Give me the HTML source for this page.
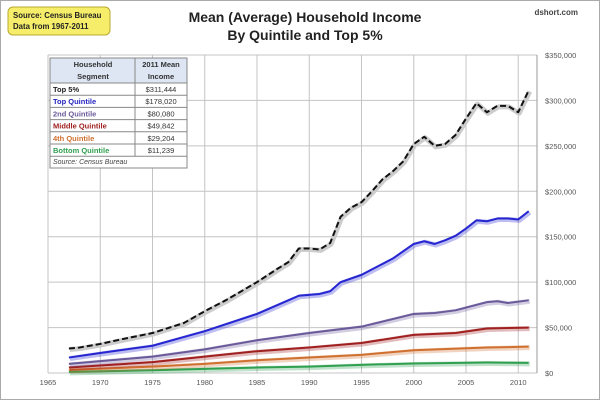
<!DOCTYPE html><html><head><style>
body{margin:0;width:600px;height:400px;background:#fff;overflow:hidden;font-family:"Liberation Sans",sans-serif}
</style></head><body>
<svg width="600" height="400" xmlns="http://www.w3.org/2000/svg" id="s">
<rect x="0.5" y="0.5" width="599" height="399" fill="#fff" stroke="#aaa"/>
<g id="grid" stroke="#c4c4c4" stroke-width="1"></g>
<g id="lines" fill="none" stroke-linejoin="round"></g>
<g id="lab" font-size="7.5" fill="#555"></g>
<rect x="8" y="7" width="102" height="28" rx="5" fill="#f6ee6a" stroke="#b8a830"/>
<text x="13" y="18" font-size="7.8" font-weight="bold" fill="#222">Source: Census Bureau</text>
<text x="13" y="29" font-size="7.8" font-weight="bold" fill="#222">Data from 1967-2011</text>
<text x="305" y="22" font-size="14" font-weight="bold" text-anchor="middle" fill="#222">Mean (Average) Household Income</text>
<text x="305" y="40" font-size="14" font-weight="bold" text-anchor="middle" fill="#222">By Quintile and Top 5%</text>
<text x="578" y="15" font-size="8" font-weight="bold" text-anchor="end" fill="#444">dshort.com</text>
<g font-size="7.5" font-weight="bold">
<rect x="50" y="58" width="137" height="110" fill="#fff" stroke="#888"/>
<rect x="50" y="58" width="137" height="25" fill="#dde6f2" stroke="#888"/>
<line x1="135" y1="58" x2="135" y2="156" stroke="#888"/>
<text x="93" y="67" text-anchor="middle" fill="#333">Household</text>
<text x="93" y="79" text-anchor="middle" fill="#333">Segment</text>
<text x="161" y="67" text-anchor="middle" fill="#333">2011 Mean</text>
<text x="161" y="79" text-anchor="middle" fill="#333">Income</text>
<g id="tbl"></g>
<text x="53" y="164" font-weight="normal" font-style="italic" fill="#444" font-size="7">Source: Census Bureau</text>
</g>
</svg>
<script>
const X=y=>48+(y-1965)*10.45, Y=v=>373-v*0.9086;
const g=document.getElementById('grid'),L=document.getElementById('lines'),lab=document.getElementById('lab'),T=document.getElementById('tbl');
const ns="http://www.w3.org/2000/svg";
function el(p,t,a,txt){const e=document.createElementNS(ns,t);for(const k in a)e.setAttribute(k,a[k]);if(txt)e.textContent=txt;p.appendChild(e);return e;}
for(let y=1965;y<=2010;y+=5){el(g,'line',{x1:X(y),x2:X(y),y1:55,y2:373});el(lab,'text',{x:X(y),y:385,'text-anchor':'middle'},y);}
for(let v=0;v<=350;v+=50){el(g,'line',{x1:48,x2:537,y1:Y(v),y2:Y(v)});el(lab,'text',{x:545,y:Y(v)+3},'$'+(v?v+',000':'0'));}
el(g,'line',{x1:537,x2:537,y1:55,y2:373,stroke:'#999'});
const S=[
['#30a050',{1967:1.3,1975:3,1980:4.5,1985:6,1990:7,1995:9,2000:10.5,2007:11.5,2011:11.2}],
['#d07030',{1967:3.5,1975:7,1980:10,1985:14,1990:17,1995:20,2000:25,2007:28,2011:29}],
['#a02020',{1967:6,1975:12,1980:18,1985:24,1990:28,1995:33,2000:42,2004:44,2007:49,2011:50}],
['#6a5a9a',{1967:10,1975:18,1980:26,1985:36,1990:44,1995:51,2000:65,2002:66,2004:69,2007:78,2008:79,2009:77,2011:80}],
['#2626d0',{1967:17,1970:22,1975:30,1980:46,1985:65,1988:80,1989:85,1990:86,1991:87,1992:90,1993:100,1995:108,1997:120,1998:126,2000:142,2001:145,2002:142,2003:146,2004:151,2005:159,2006:168,2007:167,2008:170,2009:170,2010:169,2011:178}],
['#111',{1967:27,1968:28,1970:32,1972:37,1975:44,1978:55,1980:68,1982:80,1985:100,1987:115,1988:122,1989:137,1990:137,1991:136,1992:143,1993:172,1994:182,1995:188,1996:200,1997:213,1998:222,1999:233,2000:252,2001:260,2002:250,2003:252,2004:262,2005:280,2006:297,2007:287,2008:294,2009:294,2010:287,2011:311}]];
S.forEach(([c,d],i)=>{const pts=Object.keys(d).map(k=>X(+k)+','+Y(d[k])).join(' ');
el(L,'polyline',{points:pts,stroke:i==5?'#ccc':c,'stroke-opacity':i==5?1:0.3,'stroke-width':5,transform:'translate(1,1)'});
const a={points:pts,stroke:c,'stroke-width':2};if(i==5)a['stroke-dasharray']='6,3';el(L,'polyline',a);});
const R=[['Top 5%','#222','$311,444'],['Top Quintile','#2626c0','$178,020'],['2nd Quintile','#6a5a9a','$80,080'],['Middle Quintile','#a02020','$49,842'],['4th Quintile','#d07030','$29,204'],['Bottom Quintile','#30a050','$11,239']];
R.forEach((r,i)=>{const y=83+i*12.2;el(T,'line',{x1:50,x2:187,y1:y+12.2,y2:y+12.2,stroke:'#888'});
el(T,'text',{x:53,y:y+9,fill:r[1]},r[0]);el(T,'text',{x:161,y:y+9,'text-anchor':'middle',fill:'#333','font-weight':'normal'},r[2]);});
</script>
</body></html>
